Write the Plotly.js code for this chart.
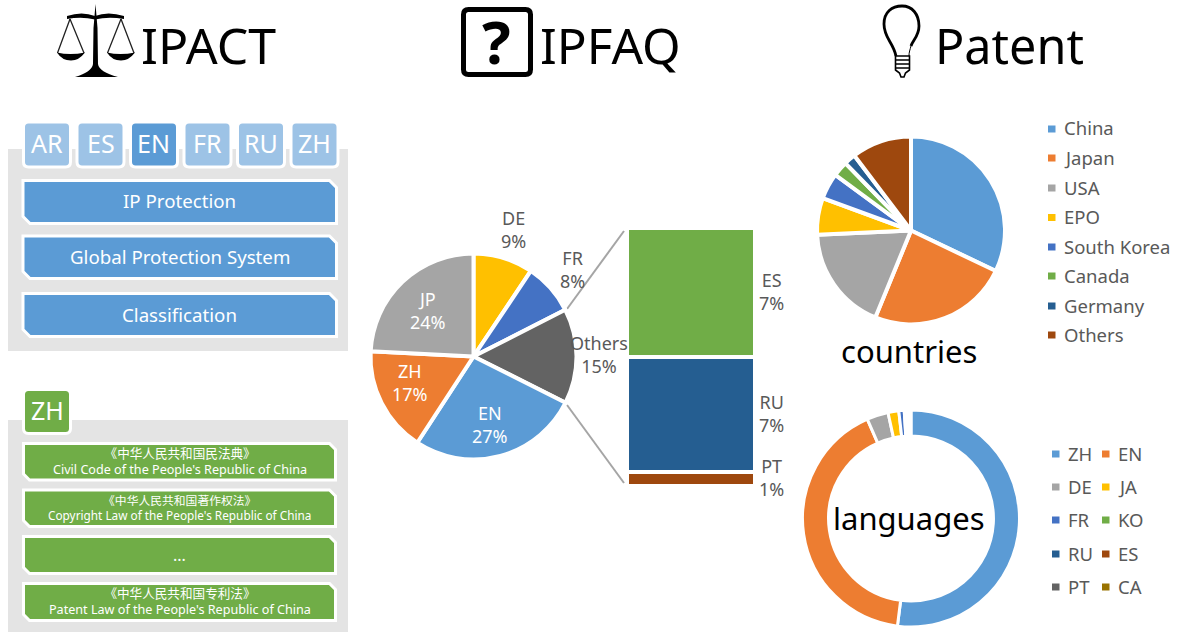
<!DOCTYPE html>
<html>
<head>
<meta charset="utf-8">
<script src="https://cdn.plot.ly/plotly-3.0.1.min.js"></script>
<style>html,body{margin:0;padding:0;background:#fff;overflow:hidden}#chart{width:1177px;height:632px}</style>
</head>
<body>
<div id="chart"></div>
<script>
// ---- data ----
const mainLabels = ['DE','FR','Others','EN','ZH','JP'];
const mainValues = [9.4,8.1,14.9,26.8,16.6,24.2];
const mainColors = ['#FFC000','#4472C4','#636363','#5B9BD5','#ED7D31','#A5A5A5'];
const otherLabels = ['PT','RU','ES'];
const otherValues = [0.81,6.7,7.49];
const otherColors = ['#9E480E','#255E91','#70AD47'];
const countryLabels = ['China','Japan','USA','EPO','South Korea','Canada','Germany','Others'];
const countryValues = [32.1,24.1,18.1,6.3,4.5,2.6,2.0,10.3];
const countryColors = ['#5B9BD5','#ED7D31','#A5A5A5','#FFC000','#4472C4','#70AD47','#255E91','#9E480E'];
const langLabels = ['ZH','EN','DE','JA','FR','KO','RU','ES','PT','CA'];
const langValues = [52,41.4,3.2,1.6,0.8,0.2,0.3,0.2,0.1,0.2];
const langColors = ['#5B9BD5','#ED7D31','#A5A5A5','#FFC000','#4472C4','#70AD47','#255E91','#9E480E','#636363','#997300'];
const ipactTabs = ['AR','ES','EN','FR','RU','ZH'];
const ipactRows = ['IP Protection','Global Protection System','Classification'];
const lawRows = [
  '《中华人民共和国民法典》<br>Civil Code of the People\'s Republic of China',
  '《中华人民共和国著作权法》<br>Copyright Law of the People\'s Republic of China',
  '...',
  '《中华人民共和国专利法》<br>Patent Law of the People\'s Republic of China'
];

// ---- layout helpers (page pixels to paper fractions) ----
const W = 1177, H = 632;
const FONT = '"Noto Sans","Noto Sans CJK SC",sans-serif';
const GREY = '#595959';
const fx = x => x / W, fy = y => 1 - y / H;
const shapes = [], annotations = [];
function pathOf(d){
  let i = 0;
  return d.replace(/-?\d+(\.\d+)?/g, n => { const v = parseFloat(n); const r = (i++ % 2 === 0) ? fx(v) : fy(v); return r.toFixed(5); });
}
function addPath(d, fill, lineColor, lineWidth){
  shapes.push({type:'path', xref:'paper', yref:'paper', path:pathOf(d), fillcolor:fill||'rgba(0,0,0,0)',
    line:{color:lineColor||'rgba(0,0,0,0)', width:lineWidth||0}, layer:'below'});
}
function addRect(x0,y0,x1,y1,fill){
  shapes.push({type:'rect', xref:'paper', yref:'paper', x0:fx(x0), x1:fx(x1), y0:fy(y0), y1:fy(y1),
    fillcolor:fill, line:{width:0}, layer:'below'});
}
function addLine(x0,y0,x1,y1,color,width){
  shapes.push({type:'line', xref:'paper', yref:'paper', x0:fx(x0), x1:fx(x1), y0:fy(y0), y1:fy(y1),
    line:{color:color,width:width}, layer:'below'});
}
function addText(text,x,y,size,color,anchor,weight){
  annotations.push({text:text, xref:'paper', yref:'paper', x:fx(x), y:fy(y), showarrow:false,
    xanchor:anchor||'center', yanchor:'middle', align:'center', borderpad:0,
    font:{family:FONT,size:size,color:color,weight:weight||400}});
}
function addPair(label,value,x,y,color){
  addText(label+'<br>'+Math.round(value)+'%',x,y,18,color);
}
function roundRect(x0,y0,x1,y1,r,fill,lineColor,lineWidth){
  addPath(`M${x0+r} ${y0} L${x1-r} ${y0} Q${x1} ${y0} ${x1} ${y0+r} L${x1} ${y1-r} Q${x1} ${y1} ${x1-r} ${y1} L${x0+r} ${y1} Q${x0} ${y1} ${x0} ${y1-r} L${x0} ${y0+r} Q${x0} ${y0} ${x0+r} ${y0} Z`, fill, lineColor, lineWidth);
}
function snipRect(x0,y0,x1,y1,s,fill){
  addPath(`M${x0} ${y0} L${x1-s} ${y0} L${x1} ${y0+s} L${x1} ${y1} L${x0+s} ${y1} L${x0} ${y1-s} Z`, fill, '#FFFFFF', 3);
}
function pieDomain(cx,cy,r){
  return {x:[fx(cx-r),fx(cx+r)], y:[fy(cy+r),fy(cy-r)]};
}

// ---- headings ----
addText('IPACT',208.5,45,50,'#000000');
addText('IPFAQ',610.5,45,49.5,'#000000');
addText('Patent',1009.5,45,48.5,'#000000');
// scales icon
addPath('M95.5 4 L97.5 28 L98 64 Q99 72 118 77 L75 77 Q92 72 93 64 L93.5 28 Z','#000000');
addPath('M67 16 Q82 11 95 16 Q108 11 124 16 L124 19 Q108 16.5 95 19.5 Q82 16.5 67 19 Z','#000000');
addPath('M70 19 L57.5 53 M70 19 L84 53 M121 19 L107.5 53 M121 19 L134 53',null,'#222222',1.3);
addPath('M57 52.5 Q70 55.5 85 52.5 Q79 60.5 71 60.5 Q62 60.5 57 52.5 Z','#000000');
addPath('M107 52.5 Q120 55.5 135 52.5 Q129 60.5 121 60.5 Q112 60.5 107 52.5 Z','#000000');
// question icon
roundRect(463.5,9.5,530.5,74.5,5,'rgba(0,0,0,0)','#000000',5);
addText('?',496,41,60,'#000000','center',700);
// bulb icon
addPath('M896 56 C893 42 884 38 884 24 C884 12 892 6 902 6 C912 6 919 14 919 26 C919 36 913 40 911 46',null,'#000000',2.8);
addPath('M911 46 C910 50 909 52 909 56',null,'#000000',1);
addPath('M895.5 56 L909.5 56 L909.5 70 L905.5 73 L904 77 L901 77 L899.5 73 L895.5 70 Z','#FFFFFF','#000000',1.6);
addPath('M895.5 60 L909.5 60 M895.5 64 L909.5 64 M895.5 68 L909.5 68',null,'#000000',1.6);

// ---- IPACT panel ----
addRect(8,149,348,351,'#E4E4E4');
const tabX = [23.5,77,130.5,184,237.5,291];
ipactTabs.forEach((t,i)=>{
  roundRect(tabX[i],122,tabX[i]+47,167,5,t==='EN'?'#5B9BD5':'#9DC3E6','#FFFFFF',3);
  addText(t,tabX[i]+23.5,143,25,'#FFFFFF');
});
const rowY = [[180.5,223.5],[236,278.5],[293.5,336.5]];
ipactRows.forEach((t,i)=>{
  snipRect(23,rowY[i][0],336.5,rowY[i][1],7,'#5B9BD5');
  addText(t,179.5,(rowY[i][0]+rowY[i][1])/2-1,18.7,'#FFFFFF');
});

// ---- law panel ----
addRect(8,420,348,632,'#E4E4E4');
roundRect(23.5,389.5,70.5,433.5,5,'#70AD47','#FFFFFF',3);
addText('ZH',47,410,25,'#FFFFFF');
const lawY = [[443.5,480],[490,526.5],[536.5,573.5],[583.5,620.5]];
const lawSize = [12.6,11.8,16,12.6];
lawRows.forEach((t,i)=>{
  snipRect(23.5,lawY[i][0],335.5,lawY[i][1],6,'#70AD47');
  addText(t,179.5,(lawY[i][0]+lawY[i][1])/2-0.5,lawSize[i],'#FFFFFF');
});

// ---- bar of pie: leader lines and labels ----
addLine(567,309,624,231,'#A5A5A5',2);
addLine(567,405,624,483,'#A5A5A5',2);
const mainLabelPos = [[513,229.5,GREY],[572,269.5,GREY],[598.5,354.5,GREY],[490,424.5,'#FFFFFF'],[410,382.5,'#FFFFFF'],[428,310.5,'#FFFFFF']];
mainLabels.forEach((l,i)=>{
  const p = mainLabelPos[i];
  addPair(l,mainValues[i],p[0],p[1],p[2]);
});
const otherLabelPos = [[771,477.5],[771,413.5],[771,291.5]];
otherLabels.forEach((l,i)=>{
  addPair(l,otherValues[i],otherLabelPos[i][0],otherLabelPos[i][1],GREY);
});

// ---- right column text and legends ----
addText('countries',909,351,31,'#000000');
addText('languages',909,518,31,'#000000');
const cLegY = [129,158,188,217.5,247,276,306,335];
countryLabels.forEach((l,i)=>{
  addRect(1048,cLegY[i]-3.5,1055.5,cLegY[i]+3.5,countryColors[i]);
  addText(l,1062.5,cLegY[i]-1,18.5,GREY,'left');
});
const lLegY = [454,487,520,554,587];
const lLegSquareX = [1052,1102], lLegTextX = [1066.5,1116.5];
langLabels.forEach((l,i)=>{
  const col = i%2, row = Math.floor(i/2);
  addRect(lLegSquareX[col],lLegY[row]-3.5,lLegSquareX[col]+7.5,lLegY[row]+3.5,langColors[i]);
  addText(l,lLegTextX[col],lLegY[row]-1,18.5,GREY,'left');
});

// ---- traces ----
const pieBase = {type:'pie', sort:false, direction:'clockwise', rotation:0, textinfo:'none', hoverinfo:'none', showlegend:false};
const traces = [
  Object.assign({},pieBase,{labels:mainLabels, values:mainValues, marker:{colors:mainColors,line:{color:'#FFFFFF',width:4}}, domain:pieDomain(473.5,356.5,103)}),
  Object.assign({},pieBase,{labels:countryLabels, values:countryValues, marker:{colors:countryColors,line:{color:'#FFFFFF',width:4}}, domain:pieDomain(911,230.5,94)}),
  Object.assign({},pieBase,{labels:langLabels, values:langValues, hole:0.76, marker:{colors:langColors,line:{color:'#FFFFFF',width:3}}, domain:pieDomain(911,518.5,108.5)})
];
otherLabels.forEach((l,i)=>{
  traces.push({type:'bar', name:l, x:['Others'], y:[otherValues[i]], width:[1], marker:{color:otherColors[i],line:{color:'#FFFFFF',width:4}},
    hoverinfo:'none', showlegend:false, textposition:'none'});
});

const layout = {
  width:W, height:H, margin:{l:0,r:0,t:0,b:0,pad:0}, paper_bgcolor:'#FFFFFF', plot_bgcolor:'rgba(0,0,0,0)',
  barmode:'stack', bargap:0, showlegend:false, hovermode:false,
  font:{family:FONT},
  xaxis:{domain:[fx(627),fx(755)], visible:false, fixedrange:true},
  yaxis:{domain:[fy(486),fy(228)], range:[0,15], visible:false, fixedrange:true},
  shapes:shapes, annotations:annotations
};
Plotly.newPlot('chart',traces,layout,{displayModeBar:false,staticPlot:true});
</script>
</body>
</html>
